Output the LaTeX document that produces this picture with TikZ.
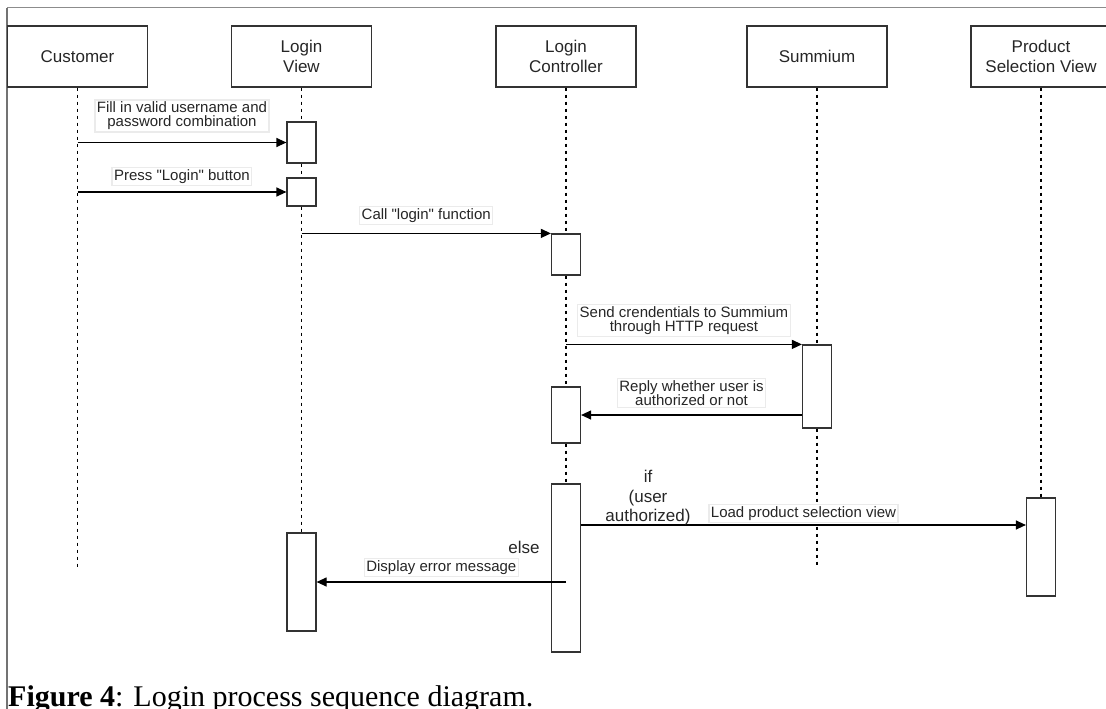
\documentclass[tikz,border=0pt]{standalone}
\usepackage{fontspec}
\setmainfont{Liberation Serif}
\setsansfont{Liberation Sans}[Ligatures=TeXOff]
\usetikzlibrary{arrows.meta}

\begin{document}
\begin{tikzpicture}[x=1pt,y=-1pt,
    actor/.style={draw=black!80,line width=1.2pt,minimum width=140pt,minimum height=61pt,align=center,
      font=\sffamily\fontsize{17}{19.5}\selectfont,text=black!85},
    act/.style={draw=black!80,line width=1.2pt,fill=white,minimum width=29pt,inner sep=0pt},
    life/.style={dash pattern=on 3.5pt off 3.5pt,line width=1.3pt},
    msg/.style={line width=1.2pt,-{Triangle[length=10pt,width=9pt]}},
    lbl/.style={fill=white,draw=black!8,inner sep=2pt,align=center,
      font=\sffamily\fontsize{15}{14}\selectfont,text=black!85},
    cond/.style={align=center,inner sep=0pt,font=\sffamily\fontsize{17}{19.5}\selectfont,text=black!85}]
  \useasboundingbox (0,0) rectangle (1106,709);
  \draw[black!45,line width=1pt] (1106,8) -- (7,8);
  \draw[black!55,line width=2pt] (7,8) -- (7,709);
  % heads
  \node[actor] (cu) at (77.5,56.5) {Customer};
  \node[actor] (lv) at (301.5,56.5) {Login\\View};
  \node[actor] (lc) at (566,56.5) {Login\\Controller};
  \node[actor] (su) at (817,56.5) {Summium};
  \node[actor] (pv) at (1041,56.5) {Product\\Selection View};
  \coordinate (cuend) at (77.5,567);
  \coordinate (suend) at (817,567);
  % activations
  \node[act,minimum height=41pt] (lv1) at (301.5,142.5) {};
  \node[act,minimum height=28pt] (lv2) at (301.5,192) {};
  \node[act,minimum height=98pt] (lv3) at (301.5,582) {};
  \node[act,minimum height=41pt] (lc1) at (566,254.5) {};
  \node[act,minimum height=56pt] (lc2) at (566,415) {};
  \node[act,minimum height=168pt] (lc3) at (566,568) {};
  \node[act,minimum height=83pt] (su1) at (817,386.5) {};
  \node[act,minimum height=98pt] (pv1) at (1041,547) {};
  % lifelines
  \draw[life] (cu.south) -- (cuend);
  \draw[life] (lv.south) -- (lv1.north) (lv1.south) -- (lv2.north) (lv2.south) -- (lv3.north);
  \draw[life] (lc.south) -- (lc1.north) (lc1.south) -- (lc2.north) (lc2.south) -- (lc3.north);
  \draw[life] (su.south) -- (su1.north) (su1.south) -- (suend);
  \draw[life] (pv.south) -- (pv1.north);
  % messages
  \draw[msg] (cu |- lv1.west) -- node[lbl,above=10pt]{Fill in valid username and\\password combination} (lv1.west);
  \draw[msg] (cu |- lv2.west) -- node[lbl,above=6pt]{Press "Login" button} (lv2.west);
  \draw[msg] (lv |- lc1.north west) -- node[lbl,above=8pt]{Call "login" function} (lc1.north west);
  \draw[msg] (lc |- su1.north west) -- node[lbl,above=7pt]{Send crendentials to Summium\\through HTTP request} (su1.north west);
  \draw[msg] (su1.west |- lc2.east) -- node[lbl,above=7pt]{Reply whether user is\\authorized or not} (lc2.east);
  \draw[msg] (lc3.east |- 0,525) -- node[lbl,above=2pt]{Load product selection view} (pv1.west |- 0,525);
  \draw[msg] (lc3 |- lv3.east) -- node[lbl,above=5pt]{Display error message} (lv3.east);
  \node[cond] (ifc) at (648,498) {if\\(user\\authorized)};
  \node[cond] (els) at (524,547) {else};
  \node[anchor=base west,inner sep=0pt,font=\fontsize{30}{30}\selectfont] (cap) at (8,706)
    {\textbf{Figure 4}: Login process sequence diagram.};
\end{tikzpicture}
\end{document}
